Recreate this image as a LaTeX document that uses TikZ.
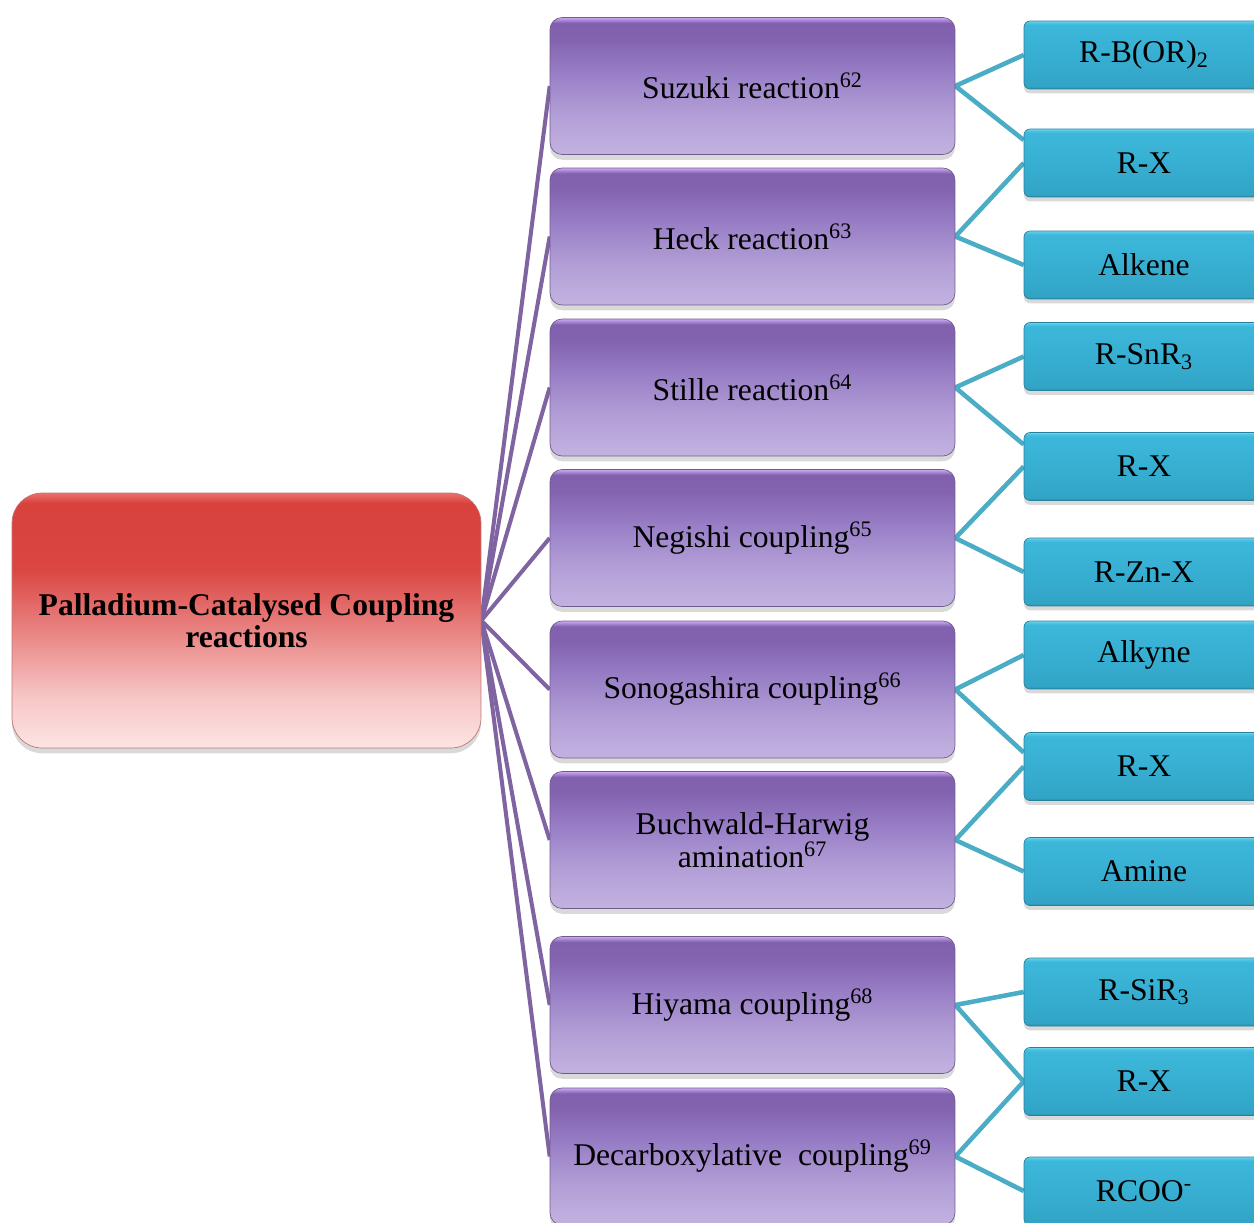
\documentclass[tikz,border=0pt]{standalone}
\usepackage{fontspec}
\setmainfont{Liberation Serif}
\usetikzlibrary{math, calc, shadows, backgrounds}

\definecolor{linepurple}{RGB}{128,100,162}
\definecolor{lineblue}{RGB}{75,172,198}
\definecolor{edgered}{RGB}{190,120,120}
\definecolor{edgepurple}{RGB}{112,92,140}
\definecolor{edgeblue}{RGB}{40,128,156}

% red head box, purple reaction boxes, blue partner boxes
\pgfdeclareverticalshading{headshade}{100bp}{
    color(0bp)=(rgb,255:red,253;green,228;blue,228); color(25bp)=(rgb,255:red,253;green,228;blue,228);
    color(35bp)=(rgb,255:red,247;green,198;blue,198); color(50bp)=(rgb,255:red,230;green,122;blue,120);
    color(60bp)=(rgb,255:red,218;green,70;blue,66); color(73bp)=(rgb,255:red,217;green,65;blue,61);
    color(75bp)=(rgb,255:red,236;green,112;blue,108); color(100bp)=(rgb,255:red,236;green,112;blue,108)}
\pgfdeclareverticalshading{reactshade}{100bp}{
    color(0bp)=(rgb,255:red,194;green,178;blue,224); color(25bp)=(rgb,255:red,194;green,178;blue,224);
    color(40bp)=(rgb,255:red,178;green,158;blue,214); color(55bp)=(rgb,255:red,152;green,126;blue,198);
    color(67bp)=(rgb,255:red,131;green,99;blue,176); color(73bp)=(rgb,255:red,129;green,97;blue,174);
    color(75bp)=(rgb,255:red,206;green,168;blue,245); color(100bp)=(rgb,255:red,206;green,168;blue,245)}
\pgfdeclareverticalshading{partshade}{100bp}{
    color(0bp)=(rgb,255:red,44;green,140;blue,170); color(25bp)=(rgb,255:red,44;green,140;blue,170);
    color(27bp)=(rgb,255:red,50;green,164;blue,198); color(50bp)=(rgb,255:red,55;green,175;blue,210);
    color(72bp)=(rgb,255:red,60;green,183;blue,218); color(74bp)=(rgb,255:red,80;green,198;blue,230);
    color(75bp)=(rgb,255:red,120;green,216;blue,240); color(100bp)=(rgb,255:red,120;green,216;blue,240)}

\begin{document}
\begin{tikzpicture}[x=0.02cm, y=-0.02cm,
    every node/.style={font=\fontsize{18}{18.5}\selectfont, align=center, inner sep=0pt},
    headbox/.style={shading=headshade, draw=edgered, line width=0.4pt, rounded corners=0.6cm,
        minimum width=9.38cm, minimum height=5.1cm, font=\fontsize{18}{18.5}\selectfont\bfseries,
        drop shadow={shadow xshift=0pt, shadow yshift=-3pt, opacity=0.3}},
    reactbox/.style={shading=reactshade, draw=edgepurple, line width=0.4pt, rounded corners=0.24cm,
        minimum width=8.1cm, minimum height=2.74cm,
        drop shadow={shadow xshift=0pt, shadow yshift=-3pt, opacity=0.3}},
    partbox/.style={shading=partshade, draw=edgeblue, line width=0.4pt, rounded corners=0.12cm,
        minimum width=4.8cm, minimum height=1.36cm,
        drop shadow={shadow xshift=0pt, shadow yshift=-2.5pt, opacity=0.3}},
    headline/.style={linepurple, line width=2.3pt},
    partline/.style={lineblue, line width=2.6pt}
]
    \tikzmath{
        \figwidth=1254;
        \figheight=1223;
        \hx=246.5;
        \rx=752.5;
        \bx=1144;
    }

    \useasboundingbox (0, 0) rectangle (\figwidth, \figheight);
    \clip (0, 0) rectangle (\figwidth, \figheight);

    % head
    \node [headbox] (pd) at (\hx, 620.5) {Palladium-Catalysed Coupling\\reactions};

    % reactions
    \node [reactbox] (suzuki) at (\rx, 86) {Suzuki reaction\textsuperscript{62}};
    \node [reactbox] (heck) at (\rx, 236.5) {Heck reaction\textsuperscript{63}};
    \node [reactbox] (stille) at (\rx, 387.5) {Stille reaction\textsuperscript{64}};
    \node [reactbox] (negishi) at (\rx, 538) {Negishi coupling\textsuperscript{65}};
    \node [reactbox] (sonogashira) at (\rx, 689.5) {Sonogashira coupling\textsuperscript{66}};
    \node [reactbox] (buchwald) at (\rx, 840) {Buchwald-Harwig\\amination\textsuperscript{67}};
    \node [reactbox] (hiyama) at (\rx, 1005) {Hiyama coupling\textsuperscript{68}};
    \node [reactbox] (decarb) at (\rx, 1156.5) {Decarboxylative~ coupling\textsuperscript{69}};

    % partners
    \node [partbox] (boron) at (\bx, 55) {R-B(OR)\textsubscript{2}};
    \node [partbox] (rxa) at (\bx, 163) {R-X};
    \node [partbox] (alkene) at (\bx, 265) {Alkene};
    \node [partbox] (tin) at (\bx, 356.5) {R-SnR\textsubscript{3}};
    \node [partbox] (rxb) at (\bx, 466.5) {R-X};
    \node [partbox] (zinc) at (\bx, 572) {R-Zn-X};
    \node [partbox] (alkyne) at (\bx, 655) {Alkyne};
    \node [partbox] (rxc) at (\bx, 766.5) {R-X};
    \node [partbox] (amine) at (\bx, 871.5) {Amine};
    \node [partbox] (silicon) at (\bx, 992) {R-SiR\textsubscript{3}};
    \node [partbox] (rxd) at (\bx, 1081.5) {R-X};
    \node [partbox] (carboxylate) at (\bx, 1191) {RCOO\textsuperscript{-}};

    \begin{scope}[on background layer]
        % head to reactions
        \draw [headline] (pd.east) -- (suzuki.west);
        \draw [headline] (pd.east) -- (heck.west);
        \draw [headline] (pd.east) -- (stille.west);
        \draw [headline] (pd.east) -- (negishi.west);
        \draw [headline] (pd.east) -- (sonogashira.west);
        \draw [headline] (pd.east) -- (buchwald.west);
        \draw [headline] (pd.east) -- (hiyama.west);
        \draw [headline] (pd.east) -- (decarb.west);

        % reactions to partners
        \draw [partline] (boron.west) -- (suzuki.east) -- ([yshift=0.46cm]rxa.west);
        \draw [partline] (rxa.west) -- (heck.east) -- (alkene.west);
        \draw [partline] (tin.west) -- (stille.east) -- ([yshift=0.44cm]rxb.west);
        \draw [partline] (rxb.west) -- (negishi.east) -- (zinc.west);
        \draw [partline] (alkyne.west) -- (sonogashira.east) -- ([yshift=0.28cm]rxc.west);
        \draw [partline] (rxc.west) -- (buchwald.east) -- (amine.west);
        \draw [partline] (silicon.west) -- (hiyama.east) -- (rxd.west);
        \draw [partline] (rxd.west) -- (decarb.east) -- (carboxylate.west);
    \end{scope}
\end{tikzpicture}
\end{document}
